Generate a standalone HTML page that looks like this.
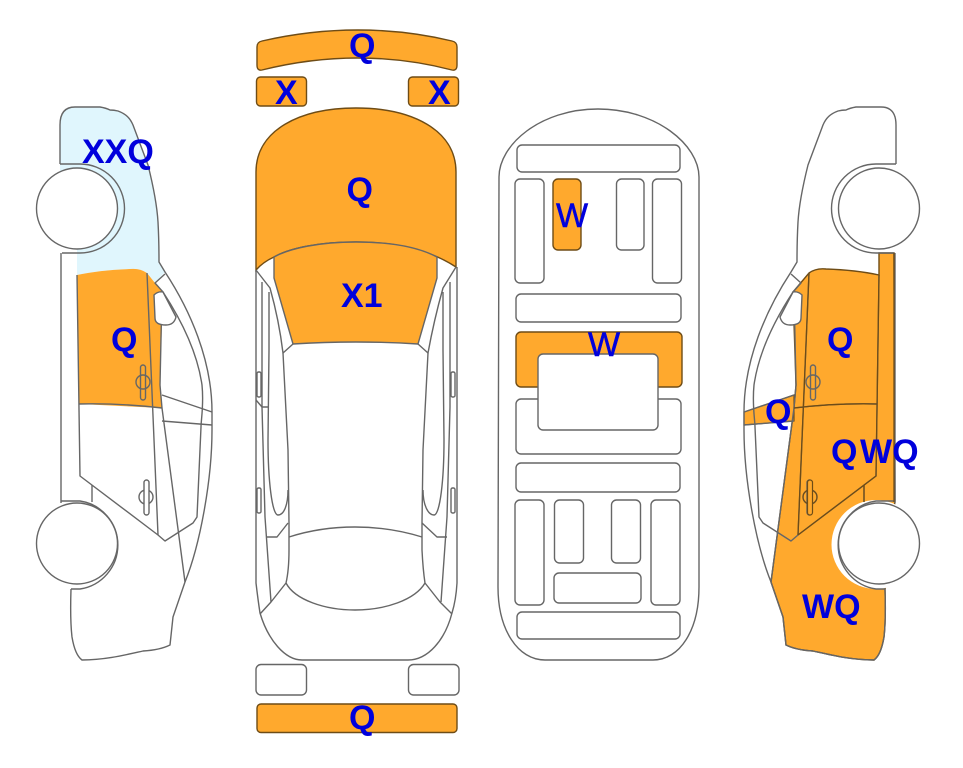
<!DOCTYPE html>
<html>
<head>
<meta charset="utf-8">
<style>
html,body{margin:0;padding:0;background:#fff;}
svg{display:block;}
text{font-family:"Liberation Sans",sans-serif;font-weight:bold;font-size:34px;fill:#0000dc;}
.l{fill:none;stroke:#666;stroke-width:1.4;stroke-linejoin:round;}
.w{fill:#fff;stroke:#666;stroke-width:1.4;}
.o{fill:#ffa92d;stroke:#6e4c16;stroke-width:1.4;}
.t{font-weight:normal;stroke:#0000dc;stroke-width:.5;}
</style>
</head>
<body>
<svg width="963" height="768" viewBox="0 0 963 768" xmlns="http://www.w3.org/2000/svg">
<defs>
<g id="side">
  <circle cx="80" cy="544.5" r="44.5" fill="#fff" stroke="none"/>
  <path class="l" d="M60,164V125Q60,107 75,107H100Q106,108 110,110Q114,110 118,111C126,114 130,118 133,125L148,165C153,185 157,205 158,222C159,240 159,250 159,262L165,272C190,310 212,360 212,412V430C212,480 200,545 185,582L173,617L170,645Q160,650 143,651C125,655 105,660 82,660Q75,655 72,637Q70,620 71,589"/>
  <path class="l" d="M60,164H80A44.5,44.5 0 0 1 80,253H62"/>
  <path class="l" d="M61,253V503M61,501H80A44.5,44.5 0 0 1 80,589H71"/>
  <path class="l" d="M165,274L155,283L163,292C180,318 197,350 202,385C204,405 201,420 201,427L197,517L193,523L165,541L158,535L80,476L77,275"/>
  <path class="l" d="M147,273L158,535M162,395L212,412M212,425L162,421M162,292L160,385L162,408L185,582M92,485V502M79,404Q120,403 162,408"/>
  <path class="w" d="M154,295Q158,291 163,292L176,317Q174,325 166,325Q155,325 155,318Z"/>
  <circle class="w" cx="77" cy="208.5" r="40.5"/>
  <circle class="w" cx="77" cy="543.5" r="40.5"/>
  <circle class="l" cx="146" cy="497" r="7"/>
  <rect class="w" x="144" y="480" width="5" height="35" rx="2.5"/>
  <circle class="l" cx="143" cy="382" r="7"/>
  <rect class="l" x="140.500" y="365" width="5" height="35" rx="2.5"/>
</g>
</defs>

<!-- left car -->
<path fill="#e0f6fd" d="M60,200V125Q60,107 75,107H100Q106,108 110,110Q114,110 118,111C126,114 130,118 133,125L148,165C153,185 157,205 158,222C159,240 159,250 159,262L165,272L155,283L147,273Q140,268 130,269Q100,270 77,275V245Z"/>
<path class="o" style="stroke:none" d="M77,275Q100,270 130,269Q140,268 147,273L155,283L163,292L160,385L162,408L79,404Z"/>
<use href="#side"/>

<!-- right car -->
<g transform="translate(956,0) scale(-1,1)">
  <path fill="#ffa92d" stroke="#6e4c16" stroke-width="1.4" d="M62,253H77V275Q100,270 130,269Q140,268 147,273L163,292L160,385L162,408L185,582L173,617L170,645Q160,650 143,651C125,655 105,660 82,660Q75,655 72,637Q70,620 71,589L61,501Z"/>
  <path fill="#ffa92d" stroke="#6e4c16" stroke-width="1.2" d="M162,395L212,412V425L162,421Z"/>
  <use href="#side"/>
  <path d="M77,275L80,476L158,535M147,273L158,535M79,404Q120,403 162,408M62,253V502M92,485V502" fill="none" stroke="#6e4c16" stroke-width="1.3"/>
  <circle cx="146" cy="497" r="7" fill="none" stroke="#6e4c16" stroke-width="1.2"/>
  <rect x="143.500" y="480" width="5" height="35" rx="2.500" fill="#ffa92d" stroke="#6e4c16" stroke-width="1.2"/>
</g>

<!-- top view -->
<path class="o" d="M257,47Q257,42 262,41Q310,30 358,30Q406,30 452,41Q457,42 457,47V65Q457,71 452,70Q406,58 358,58Q310,58 262,70Q257,71 257,65Z"/>
<rect class="o" x="256.500" y="77" width="50" height="29" rx="4"/>
<rect class="o" x="408.500" y="77" width="50" height="29" rx="4"/>
<path class="o" d="M256,270V172C256,130 300,108 356,108C412,108 456,130 456,172V267C430,250 395,242 356,242C320,242 290,248 274,257Q263,262 256,270Z"/>
<path class="o" style="stroke:#666" d="M274,257C290,248 320,242 356,242C395,242 420,248 437,257V278L418,344Q356,340 293,344L274,278Z"/>
<path class="l" d="M256,270V583Q258,600 260,613C268,640 285,660 302,660H408C428,660 445,640 452,613Q456,600 457,583V267"/>
<path class="l" d="M256,270L270,288Q279,320 283,353L293,344M418,344L428,353Q434,320 443,288L456,267"/>
<path class="l" d="M283,353L288,450L289,523V550Q289,570 286,583L271,602L260,614"/>
<path class="l" d="M428,353L423,450L422,523V550Q423,570 425,583L440,602L452,614"/>
<path class="l" d="M262,282V407L265,517L271,602M269,292V350L268,440C268,480 272,515 278,515C284,515 288,505 288,490"/>
<path class="l" d="M450,282V407L447,517L441,602M443,292V350L444,440C444,480 440,515 434,515C428,515 423,505 423,490"/>
<path class="l" d="M256,400L262,407H269M266,537H277L288,523M447,537H437L422,523"/>
<path class="l" d="M289,537Q320,527 355,527Q390,527 422,537M286,583C295,600 325,610 355,610C385,610 415,600 425,583"/>
<rect class="l" x="257" y="372" width="4" height="25" rx="1.500"/>
<rect class="l" x="257" y="488" width="4" height="25" rx="1.500"/>
<rect class="l" x="451" y="372" width="4" height="25" rx="1.500"/>
<rect class="l" x="451" y="488" width="4" height="25" rx="1.500"/>
<rect class="w" x="256" y="664.500" width="50.500" height="30.500" rx="5"/>
<rect class="w" x="408.500" y="664.500" width="50.500" height="30.500" rx="5"/>
<rect class="o" x="257" y="704" width="200" height="28.500" rx="4"/>

<!-- underbody -->
<path class="w" d="M499,177C499,145 540,109 598,109C656,109 699,145 699,177V587C699,630 680,660 653,660H545C518,660 498,630 498,587Z"/>
<rect class="w" x="517" y="145" width="163" height="27" rx="5"/>
<rect class="w" x="515" y="179" width="29" height="104" rx="5"/>
<rect class="o" x="553" y="179" width="28" height="71" rx="5"/>
<rect class="w" x="616.500" y="179" width="27.500" height="71" rx="5"/>
<rect class="w" x="652.500" y="179" width="29" height="104" rx="5"/>
<rect class="w" x="516" y="294" width="165" height="28" rx="5"/>
<rect class="o" x="516" y="332" width="166" height="55" rx="5"/>
<rect class="w" x="516" y="399" width="165" height="55" rx="5"/>
<rect class="w" x="538" y="354" width="120" height="76" rx="5"/>
<rect class="w" x="516" y="463" width="164" height="29" rx="5"/>
<rect class="w" x="515" y="500" width="29" height="105" rx="5"/>
<rect class="w" x="554.500" y="500" width="29" height="63" rx="5"/>
<rect class="w" x="611.500" y="500" width="29" height="63" rx="5"/>
<rect class="w" x="651" y="500" width="29" height="105" rx="5"/>
<rect class="w" x="554" y="573" width="87" height="30" rx="5"/>
<rect class="w" x="517" y="612" width="163" height="27" rx="5"/>

<!-- labels -->
<text x="82" y="163">XXQ</text>
<text x="111" y="351">Q</text>
<text x="349" y="57">Q</text>
<text x="275" y="104">X</text>
<text x="428" y="104">X</text>
<text x="346.500" y="201">Q</text>
<text x="341" y="307">X1</text>
<text x="349" y="729">Q</text>
<text class="t" x="556" y="227">W</text>
<text class="t" x="588" y="356">W</text>
<text x="827" y="351">Q</text>
<text x="765" y="423">Q</text>
<text x="831" y="463">Q</text>
<text x="860" y="463">WQ</text>
<text x="802" y="618">WQ</text>
</svg>
</body>
</html>
